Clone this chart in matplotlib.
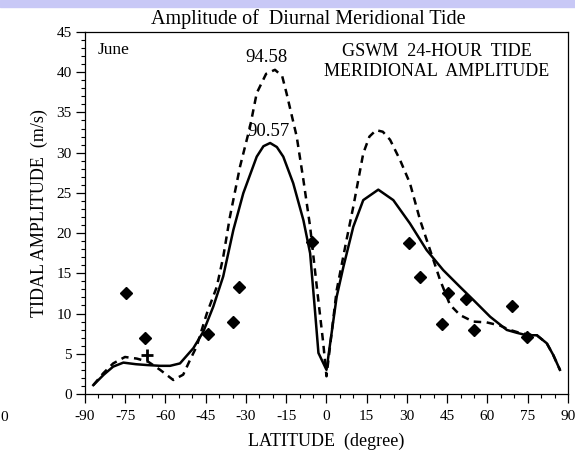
import numpy as np
import matplotlib
matplotlib.use("Agg")
import matplotlib.pyplot as plt
from matplotlib.patches import Rectangle
from matplotlib.ticker import MultipleLocator

plt.rcParams['font.family'] = ['Liberation Serif', 'DejaVu Serif']
plt.rcParams['axes.unicode_minus'] = False

# GSWM model, solid curve
solidLat = [-86.9, -83, -79.5, -75.7, -71, -67, -62, -58.3, -54.6, -49.6, -45.9, -42.2,
            -38.5, -34.7, -31.0, -26.0, -23.5, -21.0, -18.5, -16.1, -12.4, -8.6, -6.1,
            -4.3, -3.0, 0.0, 3.8, 6.3, 10.0, 13.7, 19.3, 24.9, 31.1, 37.3, 43.5, 49.8,
            54.7, 61.0, 67.2, 71, 74.6, 78.4, 82.1, 84.5, 87.0]
solidAmp = [1.1, 2.4, 3.4, 3.9, 3.7, 3.6, 3.5, 3.5, 3.8, 5.7, 7.75, 10.85,
            14.6, 20.4, 24.96, 29.5, 30.8, 31.2, 30.7, 29.5, 26.2, 21.6, 17.5,
            10.4, 5.1, 3.0, 12.1, 15.8, 20.8, 24.1, 25.4, 24.1, 21.2, 17.9, 15.4, 13.3,
            11.7, 9.6, 7.96, 7.6, 7.3, 7.3, 6.3, 4.85, 3.0]

# dashed curve
dashLat = [-86.9, -83.2, -79.5, -75.1, -70.7, -66.4, -62.0, -57.1, -53.4, -50.9, -48.4,
           -44.6, -40.9, -38.5, -36.0, -32.2, -28.5, -26.0, -22.5, -19.2, -16.5, -14.9,
           -11.1, -8.6, -6.1, -3.6, -1.2, 0.0, 3.8, 7.5, 10.0, 13.7, 16, 18.5, 21, 23.7,
           27.4, 31.1, 34.9, 38.6, 42.3, 46.0, 49.8, 54.7, 59.7, 64.7, 68, 72, 75, 78.4,
           82.1, 84.5, 87.0]
dashAmp = [1.1, 2.57, 3.8, 4.6, 4.4, 4.0, 3.0, 1.74, 2.4, 4.2, 5.9,
           10.0, 13.3, 17.0, 22.0, 28.3, 33.2, 37.4, 39.8, 40.3, 39.5, 37.4,
           32.0, 26.6, 20.8, 13.3, 6.3, 2.2, 12.9, 19.2, 23.3, 29.9, 32.0, 32.8, 32.6, 31.6,
           29.1, 26.2, 21.6, 17.9, 14.2, 11.1, 9.8, 9.0, 8.9, 8.5, 8.0, 7.6, 7.4, 7.3,
           6.3, 4.85, 3.0]

# observations
obsLat = [-74.8, -67.6, -44.0, -35.0, -32.6, -5.5, 30.9, 34.9, 45.1, 42.9, 52.0, 55.1, 69.0, 74.9]
obsAmp = [12.6, 6.9, 7.5, 8.9, 13.35, 18.9, 18.8, 14.6, 12.6, 8.65, 11.8, 7.96, 10.9, 7.1]
plusLat = [-66.8]
plusAmp = [4.85]

fig = plt.figure(figsize=(5.75, 4.57), dpi=100)
fig.patches.append(Rectangle((0, 0.985), 1, 0.015, transform=fig.transFigure,
                             color="#c8c8f6", zorder=0))
ax = fig.add_axes([0.1478, 0.1379, 0.84, 0.7921])

ax.plot(solidLat, solidAmp, color="black", lw=1.8)
ax.plot(dashLat, dashAmp, color="black", lw=1.8, dashes=(3.0, 2.2))
ax.plot(obsLat, obsAmp, "D", color="black", ms=6.5)
ax.plot(plusLat, plusAmp, "+", color="black", ms=8, mew=2)

ax.set_xlim(-90, 90)
ax.set_ylim(0, 45)
ax.xaxis.set_major_locator(MultipleLocator(15))
ax.xaxis.set_minor_locator(MultipleLocator(5))
ax.yaxis.set_major_locator(MultipleLocator(5))
ax.yaxis.set_minor_locator(MultipleLocator(1))
ax.tick_params(which="major", direction="out", length=6.5, width=0.9, labelsize=11, pad=3)
ax.tick_params(axis="x", which="major", pad=5)
ax.tick_params(which="minor", direction="out", length=3, width=0.8)
for s in ax.spines.values():
    s.set_linewidth(0.9)

ax.text(-22.3, 41.8, "94.58", ha="center", va="center", fontsize=13.5)
ax.text(-21.6, 32.6, "90.57", ha="center", va="center", fontsize=13.5)
ax.text(-85.4, 42.8, "June", ha="left", va="center", fontsize=12.5)
ax.text(41.2, 42.6, "GSWM  24-HOUR  TIDE", ha="center", va="center", fontsize=13)
ax.text(41.2, 40.1, "MERIDIONAL  AMPLITUDE", ha="center", va="center", fontsize=13)

fig.text(0.536, 0.958, "Amplitude of  Diurnal Meridional Tide", ha="center", va="center",
         fontsize=14.5)
ax.set_xlabel("LATITUDE  (degree)", fontsize=13, labelpad=7)
ax.set_ylabel("TIDAL AMPLITUDE  (m/s)", fontsize=13, labelpad=6)
fig.text(0.0, 0.087, "0", ha="left", va="center", fontsize=11)

fig.savefig("out.png", dpi=100)
